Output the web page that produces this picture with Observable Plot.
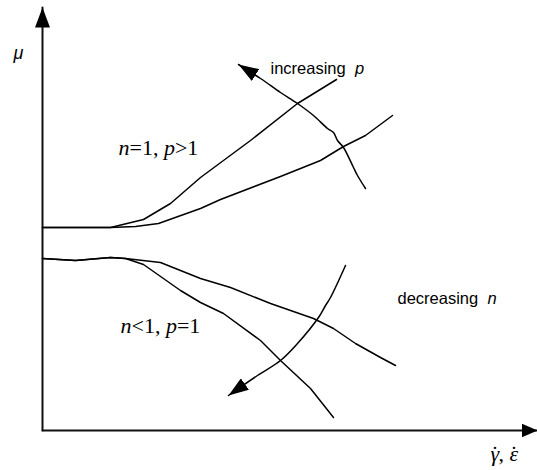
<!DOCTYPE html>
<html><head><meta charset="utf-8">
<script src="https://cdn.jsdelivr.net/npm/d3@7"></script>
<script src="https://cdn.jsdelivr.net/npm/@observablehq/plot@0.6"></script>
<style>body{margin:0;background:#fff}#chart svg{display:block}</style>
</head><body><div id="chart"></div>
<script>
// Schematic: viscosity mu vs strain rate (arbitrary units)
const axisYLine = [{x: 0, y: 0}, {x: 0, y: 84.6}];
const axisXLine = [{x: 0, y: 0}, {x: 99, y: 0}];

// n = 1, p > 1 (two upper curves)
const upperSteep = [[0,40.6],[13.6,40.6],[20.2,42.2],[25.6,45.4],[31.6,50.6],[41.6,58],[51,65.4],[58.8,70.2]];
const upperMild  = [[0,40.6],[13.6,40.6],[18.6,40.8],[23.2,41.4],[31.6,44.4],[35.6,46.2],[47.6,50.8],[55.6,54],[60.2,56.8],[64.6,59],[70,63]];
// n < 1, p = 1 (two lower curves)
const lowerMild  = [[0,34.4],[6.6,34],[13.6,34.6],[16.6,34.4],[23.6,33.6],[31.6,30.4],[37.6,28.6],[45.6,25.4],[54.2,22.4],[58.2,20.4],[62.6,17.4],[67.6,14.6],[70.6,13]];
const lowerSteep = [[0,34.4],[6.6,34],[13.6,34.6],[16.6,34.4],[20.2,33.2],[27.6,28],[31.6,25.6],[36.2,23.4],[43.6,18],[47.6,14],[53.6,8.4],[58.2,2.6]];

// curved arrows (tail -> tip)
const arrowP = [[64.6,48.4],[63,51],[62.2,52.6],[60.2,56.6],[59,58],[58.2,59.6],[57,60.4],[54.2,63],[51,65.4],[47.6,67.6],[43.6,70.4],[39.2,73.2]];
const arrowN = [[60.6,33],[57.6,26.6],[56.6,25],[55.2,22.6],[51,17.4],[47.6,14],[43,11],[37.2,7]];

// labels (anchor in data units); *x* marks italic, ^ puts a dot over the preceding letter
const muLabel     = [{x: -5.8, y: 74.4, t: "*μ*"}];
const sansLabels  = [{x: 45.6, y: 71.4, t: "increasing  *p*"}, {x: 71, y: 25.4, t: "decreasing  *n*"}];
const serifLabels = [{x: 15.2, y: 55.2, t: "*n*=1, *p*>1"}, {x: 15.6, y: 19.6, t: "*n*<1, *p*=1"}, {x: 89.6, y: -6, t: "*γ*^, *ε*^"}];

function filledArrow(len, half) {
  return (color, context) => {
    const m = d3.create("svg:marker")
      .attr("viewBox", `0 ${-half} ${len} ${2 * half}`)
      .attr("markerWidth", len).attr("markerHeight", 2 * half)
      .attr("markerUnits", "userSpaceOnUse")
      .attr("refX", len).attr("refY", 0)
      .attr("orient", "auto");
    m.append("path").attr("d", `M0,${-half}L${len},0L0,${half}Z`).attr("fill", "#000").attr("stroke", "none");
    return m.node();
  };
}

const curve = (d) => Plot.line(d, {x: (p) => p[0], y: (p) => p[1], stroke: "#000", strokeWidth: 1.5, strokeLinejoin: "round"});

const chart = Plot.plot({
  width: 537,
  height: 470,
  marginLeft: 42,
  marginRight: 0,
  marginTop: 0,
  marginBottom: 40,
  x: {domain: [0, 99], axis: null},
  y: {domain: [0, 86], axis: null},
  style: {background: "#fff", overflow: "visible"},
  marks: [
    Plot.line(axisYLine, {x: "x", y: "y", stroke: "#111", strokeWidth: 2, markerEnd: filledArrow(20, 7.5)}),
    Plot.line(axisXLine, {x: "x", y: "y", stroke: "#111", strokeWidth: 2, markerEnd: filledArrow(16, 7)}),
    curve(upperSteep),
    curve(upperMild),
    curve(lowerMild),
    curve(lowerSteep),
    Plot.line(arrowP, {x: (p) => p[0], y: (p) => p[1], stroke: "#000", strokeWidth: 1.5, curve: "catmull-rom", markerEnd: filledArrow(20, 7)}),
    Plot.line(arrowN, {x: (p) => p[0], y: (p) => p[1], stroke: "#000", strokeWidth: 1.5, curve: "catmull-rom", markerEnd: filledArrow(20, 7)}),
    Plot.text(muLabel, {x: "x", y: "y", text: "t", textAnchor: "start", lineAnchor: "bottom", fontFamily: "Liberation Sans, Arial, sans-serif", fontSize: 18, fill: "#000"}),
    Plot.text(sansLabels, {x: "x", y: "y", text: "t", textAnchor: "start", lineAnchor: "bottom", fontFamily: "Liberation Sans, Arial, sans-serif", fontSize: 16.5, fill: "#000"}),
    Plot.text(serifLabels, {x: "x", y: "y", text: "t", textAnchor: "start", lineAnchor: "bottom", fontFamily: "Liberation Serif, Times New Roman, serif", fontSize: 22, fill: "#000"})
  ]
});

// turn *...* segments into italic tspans and ^ into an over-dot
d3.select(chart).selectAll("text").each(function () {
  const el = d3.select(this);
  const target = el.select("tspan").empty() ? el : el.select("tspan");
  const s = target.text();
  if (!s.includes("*")) return;
  target.text(null).style("white-space", "pre");
  s.split(/(\*[^*]+\*|\^)/).filter((p) => p.length).forEach((p) => {
    if (p === "^") {
      target.append("tspan").text("\u02D9").attr("dx", "-0.36em").style("font-style", "normal");
      return;
    }
    const it = p.startsWith("*");
    target.append("tspan").text(it ? p.slice(1, -1) : p).style("font-style", it ? "italic" : "normal");
  });
});
document.getElementById("chart").appendChild(chart);
</script>
</body></html>
